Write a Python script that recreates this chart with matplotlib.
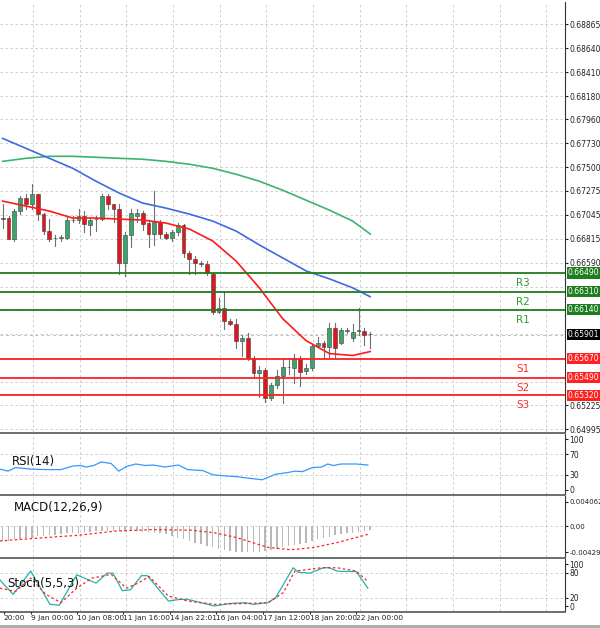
import matplotlib
matplotlib.use("Agg")
import matplotlib.pyplot as plt
import matplotlib.transforms as mtrans
from matplotlib.patches import Rectangle

# ---------------- data ----------------
opens = [.67015,.67015,.66815,.67081,.67205,.67148,.67243,.67053,.66891,.66824,.66824,.66824,.66996,.66996,.67034,.66948,
         .67005,.67005,.67224,.67148,.67101,.66586,.66853,.67034,.67062,.66967,.66863,.66977,.66863,.66824,.66882,.66948,
         .66682,.66625,.66586,.66577,.66482,.66120,.66158,.66034,.66006,.65844,.65872,.65682,.65530,.65558,.65292,.65416,
         .65501,.65587,.65577,.65673,.65549,.65577,.65796,.65825,.65787,.65968,.65825,.65939,.65872,.65939,.65939,.65911]
closes = [.67005,.66815,.67081,.67205,.67148,.67243,.67053,.66891,.66815,.66824,.66830,.66996,.67000,.67034,.66958,.66996,
          .67010,.67224,.67148,.67101,.66586,.66853,.67062,.67062,.66958,.66863,.66977,.66863,.66824,.66882,.66948,.66682,
          .66625,.66586,.66577,.66491,.66120,.66158,.66034,.66006,.65844,.65872,.65682,.65530,.65558,.65292,.65416,.65501,
          .65596,.65590,.65673,.65539,.65577,.65796,.65825,.65787,.65968,.65777,.65949,.65945,.65930,.65942,.65901,.65905]
highs = [.67148,.67034,.67101,.67224,.67243,.67339,.67243,.67062,.67005,.66853,.66853,.67034,.67034,.67101,.67081,.67015,
         .67034,.67243,.67243,.67148,.67148,.66880,.67101,.67101,.67081,.67000,.67272,.66996,.66880,.66900,.66970,.66958,
         .66700,.66650,.66600,.66600,.66491,.66250,.66320,.66050,.66050,.65900,.65920,.65700,.65600,.65580,.65440,.65560,
         .65680,.65680,.65720,.65700,.65620,.65800,.65880,.65840,.66010,.66010,.65960,.65960,.66000,.66158,.65960,.65930]
lows = [.66920,.66815,.66800,.67053,.67101,.67101,.66996,.66863,.66800,.66748,.66800,.66815,.66977,.66967,.66882,.66853,
        .66891,.66996,.67101,.66977,.66482,.66463,.66740,.66980,.66900,.66740,.66760,.66820,.66815,.66800,.66850,.66640,
        .66480,.66480,.66560,.66470,.66100,.66110,.65950,.65990,.65770,.65700,.65660,.65500,.65300,.65260,.65280,.65390,
        .65244,.65520,.65440,.65410,.65520,.65560,.65780,.65680,.65690,.65690,.65810,.65920,.65840,.65900,.65800,.65770]

ma_idx = [0,4,8,12,16,20,24,28,32,36,40,44,48,52,56,60,63]
ma_fast = [.67177,.67129,.67082,.67015,.67015,.67005,.66996,.66967,.66910,.66796,.66605,.66348,.66053,.65844,.65720,.65701,.65739]
ma_mid = [.67776,.67681,.67586,.67491,.67367,.67253,.67158,.67110,.67053,.66986,.66891,.66758,.66634,.66510,.66434,.66348,.66263]
ma_slow = [.67557,.67586,.67605,.67605,.67596,.67586,.67577,.67557,.67529,.67491,.67434,.67367,.67281,.67186,.67091,.66986,.66863]

resist = [0.6649, 0.6631, 0.6614]
support = [0.6567, 0.6549, 0.6532]
res_names = ["R3", "R2", "R1"]
sup_names = ["S1", "S2", "S3"]
last_price = 0.65901

price_ticks = [0.68865,0.68640,0.68410,0.68180,0.67960,0.67730,0.67500,0.67275,0.67045,0.66815,0.66590,0.65225,0.64995]
grid_prices = price_ticks + [0.66360, 0.66135, 0.65905, 0.65680, 0.65450]

rsi_idx = [-0.5,0.9,2.2,4.8,7.4,10,12,13.3,14.3,15.6,16.9,18.6,19.9,21.2,22.8,24.5,25.8,27.8,30.1,31.7,34.3,36,37.6,40.2,42.2,44.5,46.8,48.8,50.1,51.4,53.1,54.7,55.7,56.7,58,60.6,62.6]
rsi_vals = [41,37,44,41,40,40,47,48,45,48,55,52,37,46,51,48,49,45,49,40,38,30,28,26,23,20,31,34,37,36,44,45,51,48,51,51,49]

macd_hist = [-.00244,-.00244,-.00217,-.00217,-.0019,-.0019,-.00163,-.00163,-.00152,-.00152,-.00135,
             -.00119,-.00119,-.00108,-.00098,-.00098,-.00081,-.00081,-.00081,-.00081,-.00081,
             -.00081,-.00081,-.00081,-.00098,-.00098,-.00108,-.00119,-.00135,-.00163,-.0019,
             -.00217,-.00244,-.00271,-.00298,-.00325,-.00352,-.00379,-.0039,-.00406,-.00423,
             -.00434,-.00434,-.00423,-.00423,-.00406,-.0039,-.00379,-.00352,-.00336,-.00314,
             -.00298,-.00271,-.00244,-.00217,-.0019,-.00173,-.00152,-.00135,-.00119,-.00108,-.00098,-.00081,-.0007]
sig_idx = [-0.5,9.4,12.7,19.2,25.8,32.4,36.3,40.2,45.5,49.4,53.4,57.3,62.6]
sig_vals = [-.00244,-.00173,-.00152,-.00081,-.00054,-.00065,-.00108,-.0019,-.00352,-.0039,-.00352,-.00271,-.00135]

st_idx = [-0.5,1.8,4.8,8.1,9.7,12.7,16,17.9,18.9,20.5,21.9,23.8,24.8,28.4,30.4,31.7,36.3,38.9,41.6,42.9,45.5,46.8,49.8,50.7,52.7,55,56,57.3,58.6,60.6,62.6]
st_main = [63,28,84,4,2,75,55,79,79,37,39,73,73,12,16,16,0,6,8,4,8,20,92,81,79,92,92,84,83,83,43]
st_sidx = [-0.5,2.2,4.8,7.4,10,12.7,15.3,18.6,21.2,23.2,25.1,28.4,31.7,36.3,41.6,45.5,48.1,50.1,52,54.7,57.3,60.6,62.6]
st_sig = [43,35,67,28,8,43,67,76,43,55,71,24,12,4,6,8,32,84,87,92,92,84,59]

time_labels = ["20:00","9 Jan 00:00","10 Jan 08:00","11 Jan 16:00","14 Jan 22:01","16 Jan 04:00","17 Jan 12:00","18 Jan 20:00","22 Jan 00:00"]
time_idx = [0.2,4.9,12.8,20.7,28.7,36.6,44.6,52.6,60.6]

# ---------------- figure ----------------
W, H = 600, 628
fig = plt.figure(figsize=(6, 6.28), dpi=100)
right = 565 / W
def panel(top, bot):
    return fig.add_axes([0, 1 - bot / H, right, (bot - top) / H])

ax = panel(2, 432)
ar = panel(434, 494)
am = panel(496, 557)
ast = panel(559, 611)
XL = (-0.46, 96.4)
grid_x = [5.2 + 8 * k for k in range(12)]
gkw = dict(color="#c8c8c8", lw=0.6, ls=(0, (3, 3)))

for a in (ax, ar, am, ast):
    a.set_xlim(*XL)
    a.set_facecolor("white")
    for x in grid_x:
        a.axvline(x, **gkw, zorder=0)
    a.set_xticks([])
    a.yaxis.tick_right()
    a.tick_params(axis="y", labelsize=5.5, length=2, pad=1, colors="#222222")
    for s in ("left", "top", "bottom"):
        a.spines[s].set_visible(False)
    a.spines["right"].set_color("#333333")
    a.spines["right"].set_linewidth(0.8)

for y in (433, 495, 558, 612):
    fig.add_artist(plt.Line2D([0, right], [1 - y / H, 1 - y / H], color="#555555", lw=1.2))
fig.add_artist(plt.Line2D([0, 1], [1 - 626 / H, 1 - 626 / H], color="#aaaaaa", lw=2))

# main panel
ax.set_ylim(0.64970, 0.69080)
for p in grid_prices:
    ax.axhline(p, **gkw, zorder=0)
ax.set_yticks(price_ticks)
ax.set_yticklabels([f"{p:.5f}" for p in price_ticks])

for i, (o, h, l, c) in enumerate(zip(opens, highs, lows, closes)):
    ax.plot([i, i], [l, h], color="#707070", lw=0.8, zorder=2)
    col = "#3aa66a" if c >= o else "#e3141b"
    bot, ht = min(o, c), max(abs(c - o), 0.00003)
    ax.add_patch(Rectangle((i - 0.32, bot), 0.64, ht, facecolor=col, edgecolor="#404040", lw=0.4, zorder=3))

ax.plot(ma_idx, ma_slow, color="#3cb371", lw=1.2, zorder=4)
ax.plot(ma_idx, ma_mid, color="#4169e1", lw=1.2, zorder=4)
ax.plot(ma_idx, ma_fast, color="#ff1a1a", lw=1.2, zorder=4)

tr = mtrans.blended_transform_factory(ax.transAxes, ax.transData)
for p, n in zip(resist, res_names):
    ax.axhline(p, color="#1e7d1e", lw=1.3, zorder=5)
    ax.text(0.925, p - 0.00095, n, transform=tr, color="#2e9e2e", fontsize=7.5, ha="center", va="center")
    ax.text(1.005, p, f"{p:.5f}", transform=tr, fontsize=5.5, color="white", va="center", ha="left",
            bbox=dict(boxstyle="square,pad=0.15", fc="#1e7d1e", ec="none"), zorder=10, clip_on=False)
for p, n in zip(support, sup_names):
    ax.axhline(p, color="#ff2020", lw=1.3, zorder=5)
    ax.text(0.925, p - 0.00095, n, transform=tr, color="#ff3030", fontsize=7.5, ha="center", va="center")
    ax.text(1.005, p, f"{p:.5f}", transform=tr, fontsize=5.5, color="white", va="center", ha="left",
            bbox=dict(boxstyle="square,pad=0.15", fc="#ff2020", ec="none"), zorder=10, clip_on=False)
ax.axhline(last_price, color="#c0c0c0", lw=0.7, ls=(0, (3, 3)), zorder=1)
ax.text(1.005, last_price, f"{last_price:.5f}", transform=tr, fontsize=5.5, color="white", va="center", ha="left",
        bbox=dict(boxstyle="square,pad=0.15", fc="black", ec="none"), zorder=10, clip_on=False)

# RSI
ar.set_ylim(-8, 110)
for v in (70, 30):
    ar.axhline(v, **gkw)
ar.set_yticks([100, 70, 30, 0])
ar.plot(rsi_idx, rsi_vals, color="#3399ff", lw=0.9)
ar.text(1.5, 56, "RSI(14)", fontsize=8.5, color="#111111", va="center")

# MACD
am.set_ylim(-0.00511, 0.00504)
am.set_yticks([0.004062, 0.0, -0.004297])
am.set_yticklabels(["0.004062", "0.00", "-0.004297"], fontsize=5)
am.axhline(0, **gkw)
am.bar(range(len(macd_hist)), macd_hist, width=0.25, color="#b8b8b8")
am.plot(sig_idx, sig_vals, color="#ff2020", lw=0.9, ls=(0, (2, 2)))
am.text(2.0, 0.0032, "MACD(12,26,9)", fontsize=8.5, color="#111111", va="center")

# Stoch
ast.set_ylim(-12, 113)
for v in (80, 20):
    ast.axhline(v, **gkw)
ast.set_yticks([100, 80, 20, 0])
ast.plot(st_idx, st_main, color="#20b2aa", lw=0.9)
ast.plot(st_sidx, st_sig, color="#ff2020", lw=0.9, ls=(0, (2, 2)))
ast.text(0.8, 55, "Stoch(5,5,3)", fontsize=8.5, color="#111111", va="center")

# time axis
ast.set_xticks(time_idx)
ast.set_xticklabels(time_labels, fontsize=5.3, ha="left")
ast.tick_params(axis="x", length=2, pad=1, colors="#222222")

fig.savefig("out.png", dpi=100, facecolor="white")
